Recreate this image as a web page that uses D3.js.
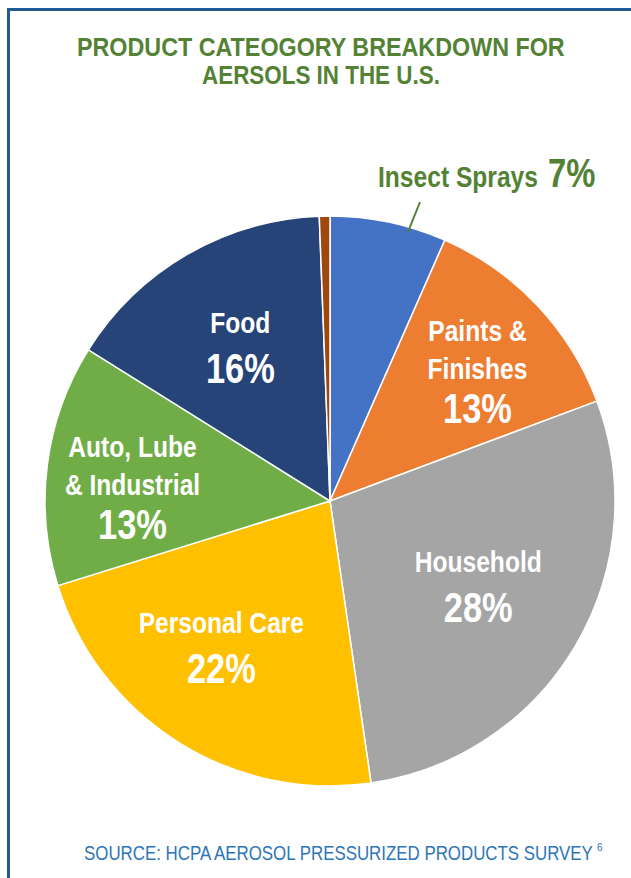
<!DOCTYPE html>
<html>
<head>
<meta charset="utf-8">
<script src="https://cdn.jsdelivr.net/npm/d3@7"></script>
<style>
  body { margin: 0; background: #fff; }
  svg { display: block; }
</style>
</head>
<body>
<script>
// chart values, in pie order (clockwise from 12 o'clock)
var categories = ["Insect Sprays", "Paints & Finishes", "Household", "Personal Care", "Auto, Lube & Industrial", "Food", "Other"];
var shares = [6.6, 12.7, 28.4, 22.5, 13.7, 15.5, 0.6];
var pctLabels = ["7%", "13%", "28%", "22%", "13%", "16%", ""];
var nameLines = [["Insect Sprays"], ["Paints &", "Finishes"], ["Household"], ["Personal Care"], ["Auto, Lube", "& Industrial"], ["Food"], []];

var sliceColors = ["#4472c4", "#ed7d31", "#a5a5a5", "#ffc000", "#70ad47", "#264478", "#9e480e"];
// small nudges of each label block off the slice centroid
var labelNudge = [[0, 0], [13, -3], [-11, -9], [-10, -11], [-14, 10], [3, 6], [0, 0]];

var W = 631, H = 878;
var cx = 330, cy = 501, R = 285;
var green = "#548235";
var FONT = "'Liberation Sans', Arial, sans-serif";
var NARROW = 0.82;

var svg = d3.select("body").append("svg")
    .attr("width", W)
    .attr("height", H);

// frame (top + left rules)
svg.append("line")
    .attr("x1", 8).attr("x2", W).attr("y1", 9.5).attr("y2", 9.5)
    .attr("stroke", "#1f5a94").attr("stroke-width", 3);
svg.append("line")
    .attr("x1", 8.5).attr("x2", 8.5).attr("y1", 8).attr("y2", H)
    .attr("stroke", "#1f5a94").attr("stroke-width", 3);

// text squeezed sideways to look like a condensed face
// k > 0 is a fixed squeeze, width > 0 fits the text to that width
function addText(parent, str, x, y, size, fill, opts) {
    opts = opts || {};
    var t = parent.append("text")
        .attr("font-family", FONT)
        .attr("font-weight", opts.weight || "bold")
        .attr("font-size", size)
        .attr("fill", fill)
        .attr("text-anchor", opts.anchor || "start")
        .text(str);
    var w = t.node().getComputedTextLength();
    var k = opts.width ? opts.width / w : (opts.k || NARROW);
    t.attr("transform", "translate(" + x + "," + y + ") scale(" + k + ",1)");
    t.property("__w", w * k);
    return t;
}

// title
var titleLines = ["PRODUCT CATEOGORY BREAKDOWN FOR", "AERSOLS IN THE U.S."];
var titleX = [77, 202], titleLen = [488, 238], titleY = [56, 84];
titleLines.forEach(function (s, i) {
    addText(svg, s, titleX[i], titleY[i], 25, green, { width: titleLen[i] });
});

// pie
var pie = d3.pie().sort(null).value(function (d) { return d; });
var arcs = pie(shares);
var arc = d3.arc().innerRadius(0).outerRadius(R);
var labelArc = d3.arc().innerRadius(185).outerRadius(185);

var g = svg.append("g").attr("transform", "translate(" + cx + "," + cy + ")");

g.selectAll("path.slice")
    .data(arcs)
    .join("path")
    .attr("class", "slice")
    .attr("d", arc)
    .attr("fill", function (d, i) { return sliceColors[i]; })
    .attr("stroke", "#fff")
    .attr("stroke-width", 1.5);

// inside labels
arcs.forEach(function (d, i) {
    if (i === 0 || nameLines[i].length === 0) return;
    var c = labelArc.centroid(d);
    var bx = c[0] + labelNudge[i][0];
    var by = c[1] + labelNudge[i][1];
    var n = nameLines[i].length;
    var lineGap = 38, pctGap = n > 1 ? 44 : 50;
    var total = 22 + (n - 1) * lineGap + pctGap;
    var y0 = by - total / 2 + 22;

    nameLines[i].forEach(function (s, j) {
        addText(g, s, bx, y0 + j * lineGap, 30, "#fff", { anchor: "middle" });
    });
    addText(g, pctLabels[i], bx, y0 + (n - 1) * lineGap + pctGap, 42, "#fff", { anchor: "middle" });
});

// outside label for the first slice, with a leader
var first = arcs[0];
var leadAng = first.startAngle + 0.68 * (first.endAngle - first.startAngle);
var lx = Math.sin(leadAng) * (R - 5), ly = -Math.cos(leadAng) * (R - 5);
g.append("line")
    .attr("x1", lx).attr("y1", ly)
    .attr("x2", 420 - cx).attr("y2", 202 - cy)
    .attr("stroke", green).attr("stroke-width", 2);

var nameT = addText(svg, nameLines[0][0], 378, 187, 30, green);
addText(svg, pctLabels[0], 378 + nameT.property("__w") + 10, 187, 40, green);

// source note
addText(svg, "SOURCE: HCPA AEROSOL PRESSURIZED PRODUCTS SURVEY", 84, 860, 21, "#2e75b6",
    { weight: "normal", width: 509 });
addText(svg, "6", 597, 851, 10, "#2e75b6", { weight: "normal", k: 1 });
</script>
</body>
</html>
